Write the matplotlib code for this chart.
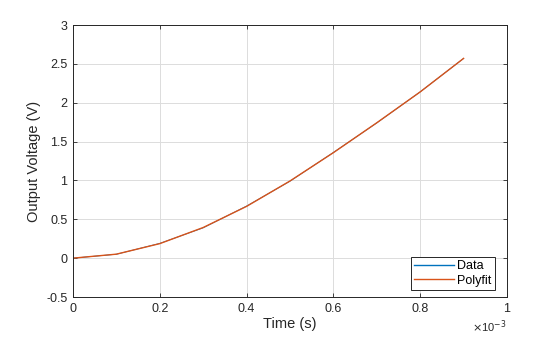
import matplotlib
matplotlib.use("Agg")
import matplotlib.pyplot as plt
import numpy as np

plt.rcParams['font.family'] = ['Liberation Sans', 'DejaVu Sans']

time_ms = [0, 0.1, 0.2, 0.3, 0.4, 0.5, 0.6, 0.7, 0.8, 0.9]
voltage = [0, 0.05, 0.19, 0.39, 0.67, 0.99, 1.36, 1.74, 2.14, 2.57]
x_ticks = [0, 0.2, 0.4, 0.6, 0.8, 1]
x_tick_labels = ['0', '0.2', '0.4', '0.6', '0.8', '1']
y_ticks = [-0.5, 0, 0.5, 1, 1.5, 2, 2.5, 3]
y_tick_labels = ['-0.5', '0', '0.5', '1', '1.5', '2', '2.5', '3']

t = np.array(time_ms)
v = np.array(voltage)
coef = np.polyfit(t, v, 6)
fit = np.polyval(coef, t)

fig = plt.figure(figsize=(5.6, 3.37), dpi=100)
ax = fig.add_axes([73 / 560, 40 / 337, 434 / 560, 272 / 337])

ax.plot(t, v, color='#0072BD', lw=0.6, label='Data')
ax.plot(t, fit, color='#D95319', lw=1.0, label='Polyfit')

ax.set_xlim(0, 1)
ax.set_ylim(-0.5, 3)
ax.set_xticks(x_ticks)
ax.set_xticklabels(x_tick_labels)
ax.set_yticks(y_ticks)
ax.set_yticklabels(y_tick_labels)
ax.grid(True, color='#dcdcdc', lw=0.7)
ax.set_axisbelow(True)
ax.tick_params(direction='in', length=3, width=0.6, colors='#262626',
               labelsize=9, top=True, right=True, pad=4)
for s in ax.spines.values():
    s.set_color('#262626')
    s.set_linewidth(0.7)

ax.set_xlabel('Time (s)', fontsize=10.5, color='#262626', labelpad=2)
ax.set_ylabel('Output Voltage (V)', fontsize=10.5, color='#262626', labelpad=4)
ax.text(1.0, -0.08, r'$\times$10$^{-3}$', transform=ax.transAxes,
        ha='right', va='top', fontsize=8, color='#262626')

leg = ax.legend(loc='lower right', bbox_to_anchor=(0.972, 0.026),
                fontsize=9, frameon=True, fancybox=False,
                edgecolor='#262626', framealpha=1, borderpad=0.25,
                handlelength=3.2, handletextpad=0.25, labelspacing=0.2,
                borderaxespad=0)
leg.get_frame().set_linewidth(0.7)
for line in leg.get_lines():
    line.set_linewidth(1.0)

fig.savefig('out.png', dpi=100)
